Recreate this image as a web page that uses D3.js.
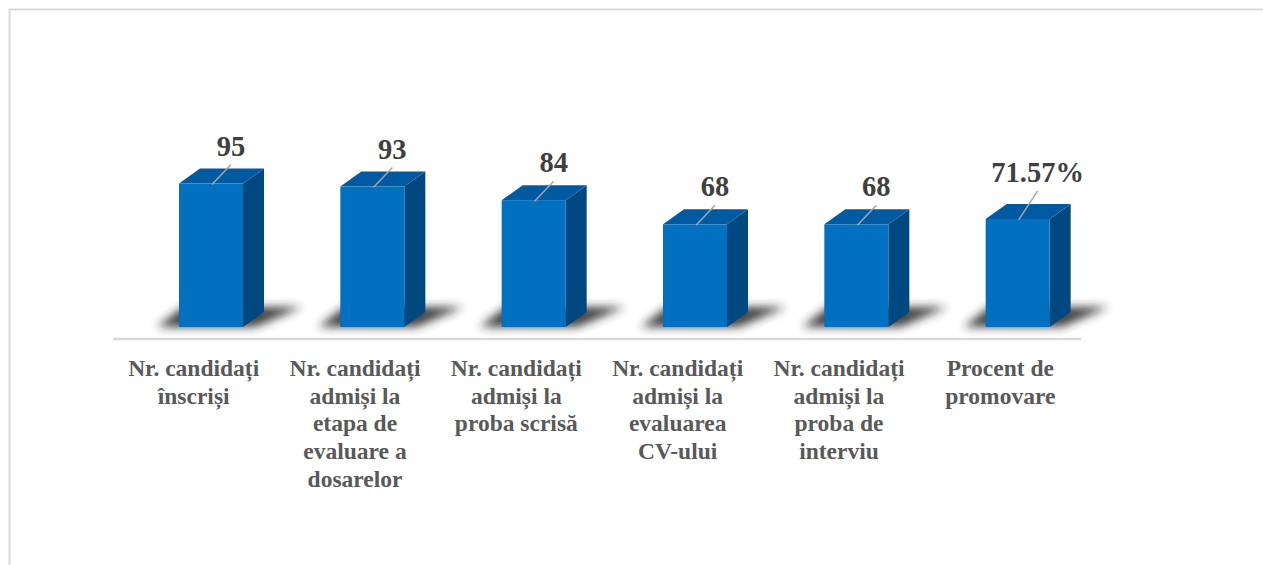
<!DOCTYPE html>
<html>
<head>
<meta charset="utf-8">
<script src="https://cdn.jsdelivr.net/npm/d3@7"></script>
<style>
  body { margin: 0; background: #fff; }
  svg { display: block; }
</style>
</head>
<body>
<svg class="stage-chart" width="1263" height="565"></svg>
<script>
const categories = [
  ["Nr. candidați", "înscriși"],
  ["Nr. candidați", "admiși la", "etapa de", "evaluare a", "dosarelor"],
  ["Nr. candidați", "admiși la", "proba scrisă"],
  ["Nr. candidați", "admiși la", "evaluarea", "CV-ului"],
  ["Nr. candidați", "admiși la", "proba de", "interviu"],
  ["Procent de", "promovare"],
];
const values = [95, 93, 84, 68, 68, 71.57];
const valueLabels = ["95", "93", "84", "68", "68", "71.57%"];

const svg = d3.select(".stage-chart");

// frame lines (top and left only, like the original)
svg.append("path")
  .attr("d", "M9.5,565 L9.5,9.5 L1263,9.5")
  .attr("fill", "none")
  .attr("stroke", "#d9d9d9")
  .attr("stroke-width", 2);

const defs = svg.append("defs");
defs.append("filter")
  .attr("id", "shadow-blur")
  .attr("x", "-50%").attr("y", "-100%")
  .attr("width", "200%").attr("height", "300%")
  .append("feGaussianBlur")
  .attr("stdDeviation", 5);

const xScale = d3.scaleBand()
  .domain(d3.range(values.length))
  .range([113, 1081]);

const yScale = d3.scaleLinear()
  .domain([0, 100])
  .range([327, 176]);

const barW = 64;
const depthX = 21;
const depthY = 15;
const barOffset = 66; // front face starts this far into the band
const base = yScale(0);

// baseline
svg.append("line")
  .attr("x1", xScale.range()[0])
  .attr("x2", xScale.range()[1])
  .attr("y1", 339)
  .attr("y2", 339)
  .attr("stroke", "#d9d9d9")
  .attr("stroke-width", 2.5);

const bars = svg.selectAll(".bar3d")
  .data(values)
  .enter()
  .append("g")
  .attr("class", "bar3d");

// soft floor shadow
bars.append("path")
  .attr("d", (d, i) => {
    const x0 = xScale(i) + barOffset;
    const x1 = x0 + barW;
    return `M${x0 - 22},${base} L${x1 + 12},${base} L${x1 + depthX + 38},${base - 20} L${x0 + 4},${base - 20} Z`;
  })
  .attr("fill", "#222")
  .attr("opacity", 0.85)
  .attr("filter", "url(#shadow-blur)");

// side face
bars.append("path")
  .attr("d", (d, i) => {
    const x1 = xScale(i) + barOffset + barW;
    const t = yScale(d);
    return `M${x1},${t} L${x1 + depthX},${t - depthY} L${x1 + depthX},${base - depthY} L${x1},${base} Z`;
  })
  .attr("fill", "#00487f");

// top face
bars.append("path")
  .attr("d", (d, i) => {
    const x0 = xScale(i) + barOffset;
    const x1 = x0 + barW;
    const t = yScale(d);
    return `M${x0},${t} L${x1},${t} L${x1 + depthX},${t - depthY} L${x0 + depthX},${t - depthY} Z`;
  })
  .attr("fill", "#005aa2");

// front face
bars.append("rect")
  .attr("x", (d, i) => xScale(i) + barOffset)
  .attr("y", (d) => yScale(d))
  .attr("width", barW)
  .attr("height", (d) => base - yScale(d))
  .attr("fill", "#0070c0");

// value labels with leader lines
const lift = (i) => (valueLabels[i].endsWith("%") ? 37 : 28);

bars.append("line")
  .attr("x1", (d, i) => xScale(i) + barOffset + barW / 2 + 1)
  .attr("y1", (d) => yScale(d) + 1)
  .attr("x2", (d, i) => xScale(i) + barOffset + barW / 2 + 20)
  .attr("y2", (d, i) => yScale(d) - lift(i) + 9)
  .attr("stroke", "#a6a6a6")
  .attr("stroke-width", 1.5);

bars.append("text")
  .attr("x", (d, i) => xScale(i) + barOffset + barW / 2 + 20)
  .attr("y", (d, i) => yScale(d) - lift(i))
  .attr("text-anchor", "middle")
  .attr("font-family", "'Liberation Serif', 'Times New Roman', serif")
  .attr("font-weight", "bold")
  .attr("font-size", "28.5px")
  .attr("fill", "#404040")
  .text((d, i) => valueLabels[i]);

// category labels
const catText = svg.selectAll(".cat")
  .data(categories)
  .enter()
  .append("text")
  .attr("class", "cat")
  .attr("x", (d, i) => xScale(i) + xScale.bandwidth() / 2)
  .attr("y", 376)
  .attr("text-anchor", "middle")
  .attr("font-family", "'Liberation Serif', 'Times New Roman', serif")
  .attr("font-weight", "bold")
  .attr("font-size", "23.5px")
  .attr("fill", "#595959");

catText.each(function (lines, i) {
  const t = d3.select(this);
  lines.forEach((line, k) => {
    t.append("tspan")
      .attr("x", xScale(i) + xScale.bandwidth() / 2)
      .attr("y", 376 + k * 27.7)
      .text(line);
  });
});
</script>
</body>
</html>
